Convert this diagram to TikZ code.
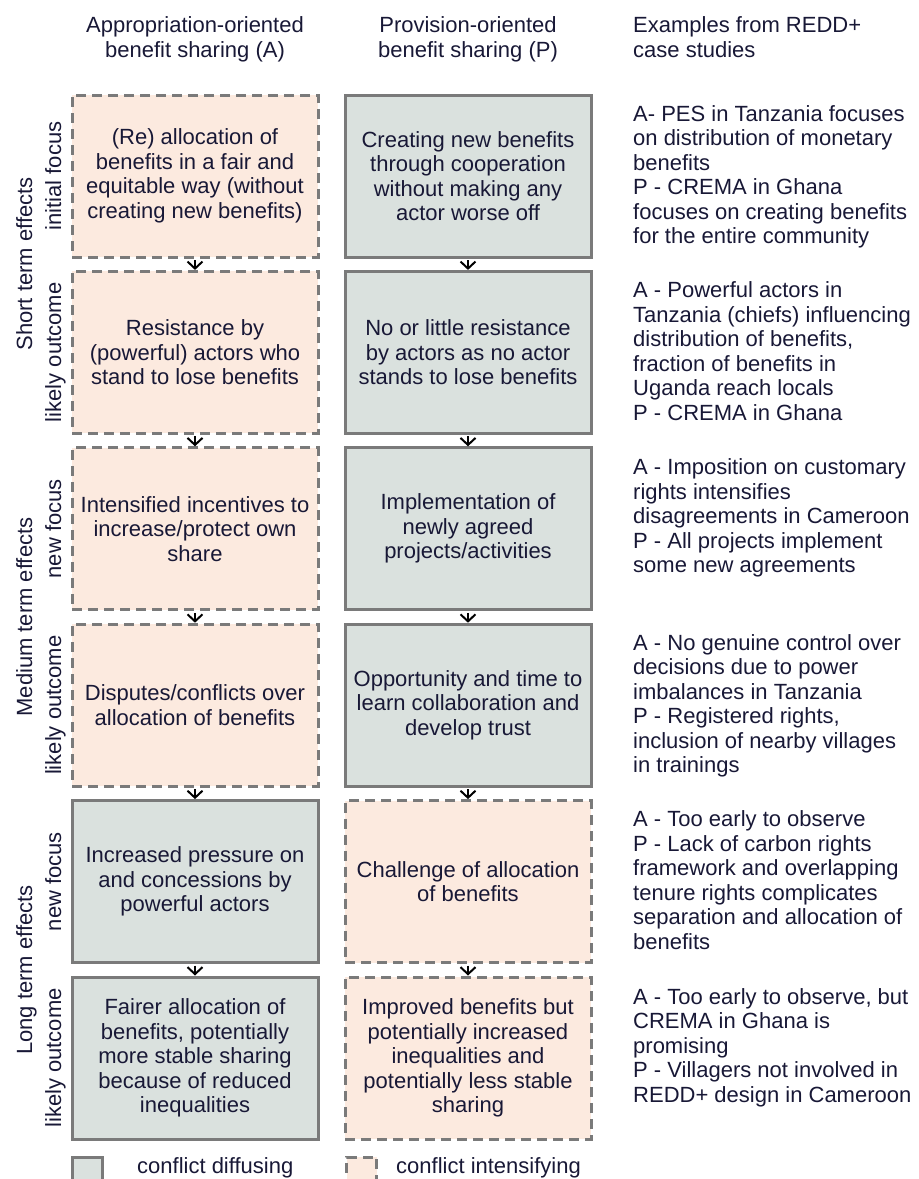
\documentclass[tikz,border=0pt]{standalone}
\usepackage{fontspec}
\setmainfont{Liberation Sans}
\usetikzlibrary{arrows.meta}
\definecolor{peach}{RGB}{252,234,223}
\definecolor{sage}{RGB}{218,225,222}
\definecolor{bord}{RGB}{122,122,122}
\definecolor{ink}{RGB}{24,24,54}
\begin{document}
\begin{tikzpicture}[x=1pt,y=-1pt,
  font=\fontsize{22}{24.5}\selectfont, text=ink,
  box/.style={minimum width=246pt, minimum height=162pt, align=center, inner sep=0pt, line width=3pt, draw=bord},
  diff/.style={box, fill=sage},
  inten/.style={box, fill=peach, dash pattern=on 10pt off 6pt},
  arr/.style={-{Straight Barb[length=7pt,width=15pt]}, line width=2pt, black, shorten <=1.5pt},
  ex/.style={anchor=north west, align=left, inner sep=0pt},
  side/.style={rotate=90, anchor=base, inner sep=0pt},
  head/.style={anchor=north, align=center, inner sep=0pt}]
\useasboundingbox (0,0) rectangle (919,1179);

% headers
\node[head] (hA) at (195,16.5) {Appropriation-oriented\\benefit sharing (A)};
\node[head] (hP) at (468,16.5) {Provision-oriented\\benefit sharing (P)};
\node[head, anchor=north west, align=left] (hE) at (633,16.5) {Examples from REDD+\\case studies};

% row 1
\node[inten] (a1) at (195,176) {(Re) allocation of\\benefits in a fair and\\equitable way (without\\creating new benefits)};
\node[diff] (p1) at (468,176) {Creating new benefits\\through cooperation\\without making any\\actor worse off};
% row 2
\node[inten] (a2) at (195,352.4) {Resistance by\\(powerful) actors who\\stand to lose benefits};
\node[diff] (p2) at (468,352.4) {No or little resistance\\by actors as no actor\\stands to lose benefits};
% row 3
\node[inten] (a3) at (195,528.8) {Intensified incentives to\\increase/protect own\\share};
\node[diff] (p3) at (468,528.8) {Implementation of\\newly agreed\\projects/activities};
% row 4
\node[inten] (a4) at (195,705.2) {Disputes/conflicts over\\allocation of benefits};
\node[diff] (p4) at (468,705.2) {Opportunity and time to\\learn collaboration and\\develop trust};
% row 5
\node[diff] (a5) at (195,881.6) {Increased pressure on\\and concessions by\\powerful actors};
\node[inten] (p5) at (468,881.6) {Challenge of allocation\\of benefits};
% row 6
\node[diff] (a6) at (195,1058) {Fairer allocation of\\benefits, potentially\\more stable sharing\\because of reduced\\inequalities};
\node[inten] (p6) at (468,1058) {Improved benefits but\\potentially increased\\inequalities and\\potentially less stable\\sharing};

% arrows
\foreach \i/\j in {1/2,2/3,3/4,4/5,5/6}{
  \draw[arr] (a\i.south) -- (a\j.north);
  \draw[arr] (p\i.south) -- (p\j.north);
}

% side labels
\node[side] (s1) at (61,176) {initial focus};
\node[side] (s2) at (61,352.4) {likely outcome};
\node[side] (s3) at (61,528.8) {new focus};
\node[side] (s4) at (61,705.2) {likely outcome};
\node[side] (s5) at (61,881.6) {new focus};
\node[side] (s6) at (61,1058) {likely outcome};
\node[side] (g1) at (32,264) {Short term effects};
\node[side] (g2) at (32,617) {Medium term effects};
\node[side] (g3) at (32,970) {Long term effects};

% examples
\node[ex] (e1) at (633,105) {A- PES in Tanzania focuses\\on distribution of monetary\\benefits\\P - CREMA in Ghana\\focuses on creating benefits\\for the entire community};
\node[ex] (e2) at (633,281.4) {A - Powerful actors in\\Tanzania (chiefs) influencing\\distribution of benefits,\\fraction of benefits in\\Uganda reach locals\\P - CREMA in Ghana};
\node[ex] (e3) at (633,458.8) {A - Imposition on customary\\rights intensifies\\disagreements in Cameroon\\P - All projects implement\\some new agreements};
\node[ex] (e4) at (633,634.2) {A - No genuine control over\\decisions due to power\\imbalances in Tanzania\\P - Registered rights,\\inclusion of nearby villages\\in trainings};
\node[ex] (e5) at (633,810.6) {A - Too early to observe\\P - Lack of carbon rights\\framework and overlapping\\tenure rights complicates\\separation and allocation of\\benefits};
\node[ex] (e6) at (633,988) {A - Too early to observe, but\\CREMA in Ghana is\\promising\\P - Villagers not involved in\\REDD+ design in Cameroon};

% legend
\begin{scope}
\clip (0,0) rectangle (919,1179);
\node[diff, minimum width=30pt, minimum height=30pt] (ld) at (87,1172) {};
\node[inten, minimum width=30pt, minimum height=30pt] (li) at (361.5,1172) {};
\end{scope}
\node[anchor=base west, inner sep=0pt] (ldt) at (137,1173.5) {conflict diffusing};
\node[anchor=base west, inner sep=0pt] (lit) at (396,1173.5) {conflict intensifying};
\end{tikzpicture}
\end{document}
